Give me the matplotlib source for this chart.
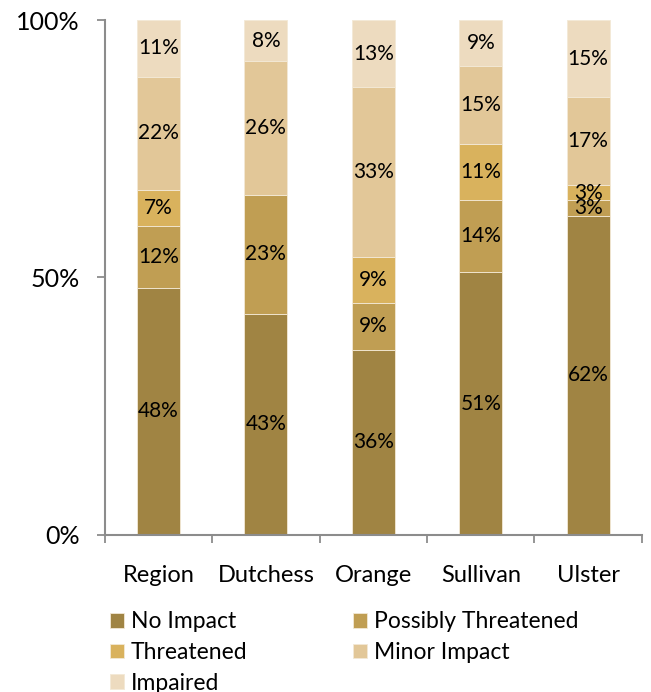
import numpy as np
import matplotlib
matplotlib.use("Agg")
import matplotlib.pyplot as plt
from matplotlib.ticker import FixedLocator, FuncFormatter

# data (percent of sites)
counties = ["Region", "Dutchess", "Orange", "Sullivan", "Ulster"]
categories = ["No Impact", "Possibly Threatened", "Threatened", "Minor Impact", "Impaired"]
no_impact = [48, 43, 36, 51, 62]
possibly_threatened = [12, 23, 9, 14, 3]
threatened = [7, 0, 9, 11, 3]
minor_impact = [22, 26, 33, 15, 17]
impaired = [11, 8, 13, 9, 15]

colors = ["#A08443", "#C09E53", "#D9B25D", "#E2C798", "#EDDBBF"]

plt.rcParams["font.family"] = ["Lato", "DejaVu Sans"]

fig = plt.figure(figsize=(6.51, 6.92), dpi=100)
ax = fig.add_axes([0.161, 0.227, 0.825, 0.744])

x = np.arange(len(counties))
series = [no_impact, possibly_threatened, threatened, minor_impact, impaired]
bottom = np.zeros(len(counties))
for name, vals, col in zip(categories, series, colors):
    vals = np.array(vals, dtype=float)
    ax.bar(x, vals, 0.4, bottom=bottom, color=col, label=name,
           edgecolor="#F3E9D6", linewidth=0.6)
    for xi, b, v in zip(x, bottom, vals):
        if v > 0:
            ax.text(xi, b + v / 2, f"{int(v)}%", ha="center", va="center",
                    fontsize=15, color="black")
    bottom += vals

ax.set_xlim(-0.5, len(counties) - 0.5)
ax.set_ylim(0, 100)
ax.set_xticks(x)
ax.set_xticklabels(counties, fontsize=17)
ax.xaxis.set_minor_locator(FixedLocator(np.arange(-0.5, len(counties), 1)))
ax.tick_params(axis="x", which="major", length=0, pad=22)
ax.tick_params(axis="x", which="minor", length=6, color="#8C8C8C", width=1.3)
ax.set_yticks([0, 50, 100])
ax.yaxis.set_major_formatter(FuncFormatter(lambda v, p: f"{int(v)}%"))
ax.tick_params(axis="y", length=6, color="#8C8C8C", width=1.3, labelsize=18, pad=12)

for side in ["top", "right"]:
    ax.spines[side].set_visible(False)
for side in ["left", "bottom"]:
    ax.spines[side].set_color("#8C8C8C")
    ax.spines[side].set_linewidth(1.5)

# row-wise legend order
handles, labels = ax.get_legend_handles_labels()
order = [0, 2, 4, 1, 3]
fig.legend([handles[i] for i in order], [labels[i] for i in order],
           loc="upper left", bbox_to_anchor=(0.152, 0.133), ncol=2,
           frameon=False, fontsize=16.5, handlelength=0.6, handleheight=0.6,
           handletextpad=0.3, columnspacing=4.6, labelspacing=0.42,
           borderpad=0)

fig.savefig("out.png", dpi=100)
